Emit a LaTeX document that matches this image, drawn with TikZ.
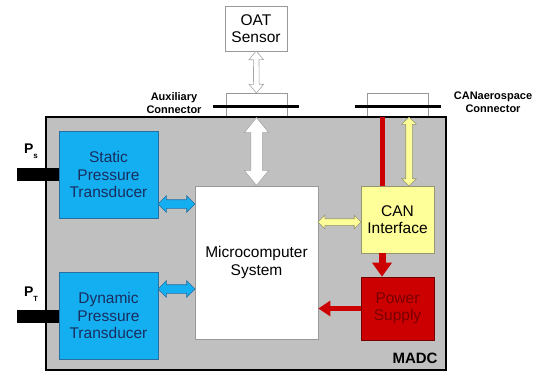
\documentclass[tikz,border=0pt]{standalone}
\usepackage{fontspec}
\setmainfont{Liberation Sans}
\usetikzlibrary{arrows.meta,shapes.arrows,positioning}
\definecolor{madcgray}{RGB}{192,192,192}
\definecolor{tdblue}{RGB}{20,175,240}
\definecolor{tdtext}{RGB}{25,45,95}
\definecolor{tdedge}{RGB}{40,110,160}
\definecolor{canyel}{RGB}{255,255,153}
\definecolor{canedge}{RGB}{150,150,110}
\definecolor{psred}{RGB}{204,0,0}
\definecolor{pstext}{RGB}{120,0,0}

\begin{document}
\begin{tikzpicture}[x=1pt,y=-1pt,
    box/.style={draw=gray!80,line width=0.6pt,fill=white,align=center,inner sep=0pt,
                font=\fontsize{15.5}{17.5}\selectfont},
    tdbox/.style={box,fill=tdblue,draw=tdedge,text=tdtext,minimum width=99pt,minimum height=87pt},
    conbox/.style={box,minimum width=61pt,minimum height=24pt},
    tube/.style={fill=black,inner sep=0pt,minimum width=42pt,minimum height=13pt},
    lbl/.style={font=\bfseries\fontsize{11}{12.5}\selectfont,align=center},
    plbl/.style={font=\bfseries\fontsize{14}{16}\selectfont},
    dblarr/.style 2 args={double arrow,inner xsep=0pt,inner ysep=#1,
                          double arrow head extend=#2,line width=0.6pt},
    redarr/.style={psred,line width=#1}]
  \useasboundingbox (0,0) rectangle (549,372);
  % connectors on top of the unit
  \node[conbox] (auxcon) at (256.5,105) {};
  \node[conbox] (cancon) at (397.5,105) {};
  \node[box,minimum width=62pt,minimum height=45pt] (oat) at (256,28.5) {OAT\\Sensor};
  % the MADC unit
  \node[draw,line width=2pt,fill=madcgray,inner sep=0pt,
        minimum width=400pt,minimum height=253pt] (madc) at (246,243.5) {};
  \draw[line width=3pt] ([xshift=-13pt,yshift=-1pt]auxcon.west) -- ([xshift=12pt,yshift=-1pt]auxcon.east);
  \draw[line width=3pt] ([xshift=-12pt,yshift=-1pt]cancon.west) -- ([xshift=13pt,yshift=-1pt]cancon.east);
  \node[lbl] (auxlbl) at (174,103) {Auxiliary\\Connector};
  \node[lbl] (canlbl) at (493,102) {CANaerospace\\Connector};
  \node[font=\bfseries\fontsize{15}{17}\selectfont] (madclbl) at (415,358) {MADC};
  % pressure ports
  \node[tube] (pstube) at (38,174.5) {};
  \node[tube] (pttube) at (38,316) {};
  \node[plbl] (ps) at (31,151) {P\raisebox{-5pt}{\fontsize{8}{9}\selectfont s}};
  \node[plbl] (pt) at (31,294) {P\raisebox{-5pt}{\fontsize{7.5}{9}\selectfont T}};
  % blocks
  \node[tdbox] (static)  at (108.5,174.5) {Static\\Pressure\\Transducer};
  \node[tdbox] (dynamic) at (108.5,315.5) {Dynamic\\Pressure\\Transducer};
  \node[box,minimum width=123pt,minimum height=153pt] (micro) at (256.5,262.5) {Microcomputer\\System};
  \draw[redarr=5pt] ([xshift=-15.5pt]cancon.south) -- ([xshift=-15.5pt,yshift=-2pt]cancon.south |- 0,186);
  \node[box,fill=canyel,draw=canedge,minimum width=73pt,minimum height=67pt] (can) at (397.5,219.5) {CAN\\Interface};
  \node[box,fill=psred,draw=red!45!black,text=pstext,minimum width=73pt,minimum height=63pt] (power) at (397.5,308.5) {Power\\Supply};
  % links
  \path (oat) -- (auxcon) node[midway,sloped,dblarr={2.5pt}{4.5pt},draw=gray!70,fill=white,
    double arrow tip angle=80,minimum height=42pt] {};
  \path (auxcon) -- (micro) node[midway,sloped,dblarr={5.5pt}{6.5pt},draw=gray!70,fill=white,
    double arrow tip angle=78,minimum height=68pt] {};
  \path ([yshift=-29.5pt]static.east) -- ([yshift=58.5pt]micro.west)
    node[midway,sloped,dblarr={4pt}{4pt},draw=tdedge,fill=tdblue,minimum height=37pt] {};
  \path ([yshift=26.5pt]dynamic.east) -- ([yshift=-26.5pt]micro.west)
    node[midway,sloped,dblarr={4pt}{4pt},draw=tdedge,fill=tdblue,minimum height=37pt] {};
  \path ([yshift=40.5pt]micro.east) -- ([yshift=-2.5pt]can.west)
    node[midway,sloped,dblarr={3pt}{3.5pt},draw=canedge,fill=canyel,minimum height=43pt] {};
  \path ([xshift=11.5pt]cancon.south) -- ([xshift=11.5pt]can.north)
    node[midway,sloped,dblarr={3pt}{4pt},draw=canedge,fill=canyel,minimum height=69pt] {};
  \draw[redarr=7pt,-{Triangle[length=14pt,width=19pt]}] ([xshift=-15.5pt]can.south) -- ([xshift=-15.5pt]power.north);
  \draw[redarr=5.5pt,-{Triangle[length=12pt,width=15pt]}] (power.west) -- (micro.east |- power.west);
\end{tikzpicture}
\end{document}
